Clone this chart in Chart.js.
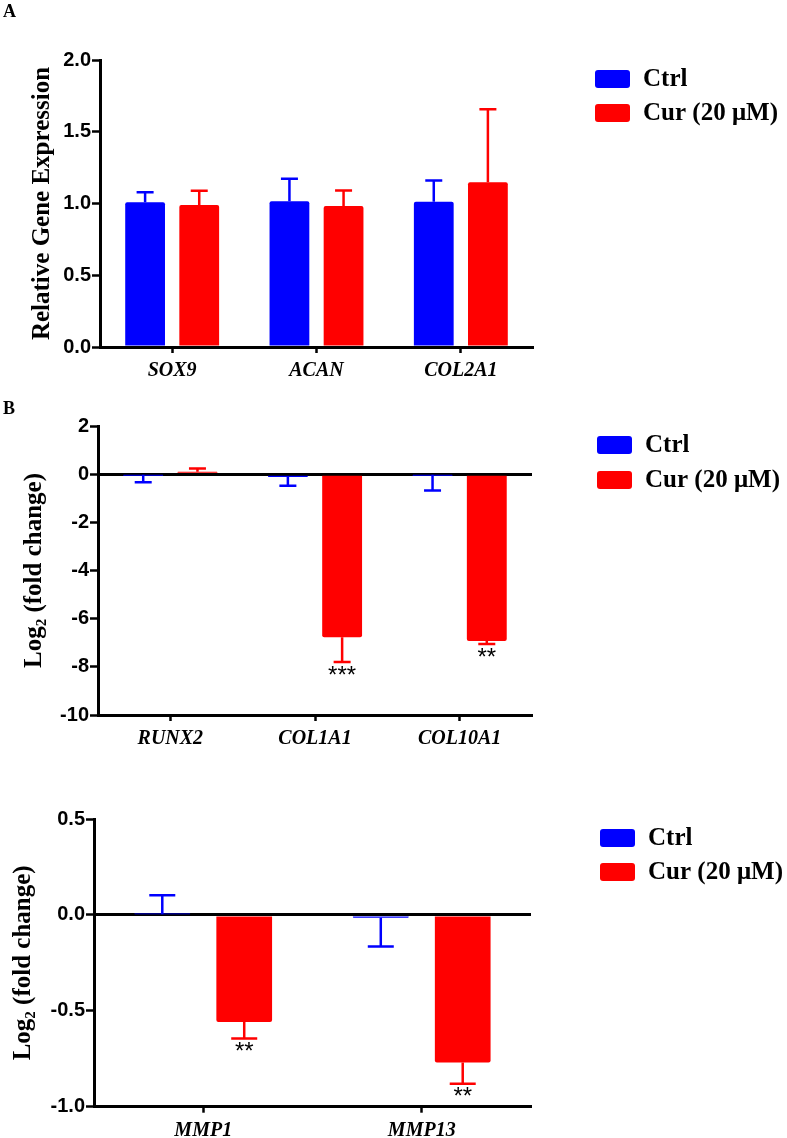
<!DOCTYPE html>
<html><head><meta charset="utf-8">
<script src="https://cdn.jsdelivr.net/npm/chart.js@4/dist/chart.umd.min.js"></script>
<style>
html,body{margin:0;padding:0;background:#fff;}
#wrap{position:relative;width:787px;height:1138px;overflow:hidden;background:#fff;}
canvas{position:absolute;left:0;}
</style></head><body>
<div id="wrap">
<canvas id="cA" width="787" height="385" style="top:0px"></canvas>
<canvas id="cB" width="787" height="380" style="top:385px"></canvas>
<canvas id="cC" width="787" height="373" style="top:765px"></canvas>
</div>
<script>
// ---------- data ----------
const seriesNames = ['Ctrl', 'Cur (20 \u03bcM)'];

// Panel A
const genesA = ['SOX9', 'ACAN', 'COL2A1'];
const ctrlA = [1.008, 1.015, 1.012];
const ctrlSemA = [0.07, 0.158, 0.148];
const curA = [0.99, 0.983, 1.148];
const curSemA = [0.099, 0.107, 0.508];
const sigA = ['', '', ''];
const yTicksA = [0, 0.5, 1.0, 1.5, 2.0];

// Panel B
const genesB = ['RUNX2', 'COL1A1', 'COL10A1'];
const ctrlB = [-0.02, -0.12, -0.02];
const ctrlSemB = [0.32, 0.36, 0.66];
const curB = [0.1, -6.77, -6.93];
const curSemB = [0.14, 1.03, 0.12];
const sigB = ['', '***', '**'];
const yTicksB = [-10, -8, -6, -4, -2, 0, 2];

// Panel C
const genesC = ['MMP1', 'MMP13'];
const ctrlC = [0.003, -0.015];
const ctrlSemC = [0.10, 0.15];
const curC = [-0.559, -0.77];
const curSemC = [0.085, 0.11];
const sigC = ['**', '**'];
const yTicksC = [-1.0, -0.5, 0.0, 0.5];

// ---------- styles ----------
const BLUE = '#0000ff', RED = '#ff0000';
const SERIF = '"Liberation Serif","Times New Roman",serif';
const SANS = '"Liberation Sans",Arial,sans-serif';

// error bars + significance marks, drawn through the chart's scales
const errorBars = {
  id: 'errorBars',
  afterDatasetsDraw(chart, args, opts) {
    const ctx = chart.ctx, ys = chart.scales.y;
    chart.data.datasets.forEach((ds, di) => {
      const meta = chart.getDatasetMeta(di);
      meta.data.forEach((bar, i) => {
        const v = ds.data[i], e = ds.sem[i];
        const end = v >= 0 ? v + e : v - e;
        const y0 = ys.getPixelForValue(v), y1 = ys.getPixelForValue(end);
        ctx.save();
        ctx.strokeStyle = ds.backgroundColor;
        ctx.lineWidth = opts.lineWidth;
        ctx.lineCap = 'butt';
        ctx.beginPath();
        ctx.moveTo(bar.x, y0); ctx.lineTo(bar.x, y1);
        ctx.moveTo(bar.x - opts.cap / 2, y1); ctx.lineTo(bar.x + opts.cap / 2, y1);
        ctx.stroke();
        if (ds.sig && ds.sig[i]) {
          ctx.fillStyle = '#000';
          ctx.font = opts.sigFont;
          ctx.textAlign = 'center';
          ctx.textBaseline = 'top';
          ctx.fillText(ds.sig[i], bar.x, y1 + opts.sigGap);
        }
        ctx.restore();
      });
    });
  }
};

// legend at the right side
const sideLegend = {
  id: 'sideLegend',
  afterDraw(chart, args, opts) {
    const ctx = chart.ctx;
    chart.data.datasets.forEach((ds, i) => {
      const top = opts.y + i * opts.spacing;
      ctx.save();
      ctx.fillStyle = ds.backgroundColor;
      ctx.beginPath();
      ctx.roundRect(opts.x, top, opts.boxW, opts.boxH, 3);
      ctx.fill();
      ctx.fillStyle = '#000';
      ctx.font = 'bold 25px ' + SERIF;
      ctx.textAlign = 'left';
      ctx.textBaseline = 'middle';
      ctx.fillText(ds.label, opts.x + opts.boxW + 13, top + opts.boxH / 2 + 1);
      ctx.restore();
    });
  }
};

function yScale(ticksArr, decimals, width, titleText, titlePad, zeroLine) {
  return {
    min: ticksArr[0], max: ticksArr[ticksArr.length - 1],
    afterBuildTicks: s => { s.ticks = ticksArr.map(v => ({ value: v })); },
    afterFit: s => { s.width = width; },
    ticks: {
      color: '#000', padding: 1,
      font: { family: SANS, size: 20, weight: 'bold' },
      callback: v => Number(v).toFixed(decimals)
    },
    grid: {
      drawOnChartArea: zeroLine, drawTicks: true, tickLength: 8, tickWidth: 2.5, tickColor: '#000',
      color: c => (zeroLine && c.tick && c.tick.value === 0) ? '#000' : 'rgba(0,0,0,0)',
      lineWidth: c => (c.tick && c.tick.value === 0) ? 3 : 1
    },
    border: { display: true, color: '#000', width: 3 },
    title: {
      display: true, text: titleText, color: '#000',
      font: { family: SERIF, size: 25, weight: 'bold' },
      padding: { top: titlePad, bottom: 0 }
    }
  };
}

function xScale(h) {
  return {
    type: 'category', offset: true,
    afterFit: s => { s.height = h; },
    grid: { offset: false, drawOnChartArea: false, drawTicks: true, tickLength: 6, tickWidth: 2.5, tickColor: '#000', color: '#000' },
    border: { display: true, color: '#000', width: 3 },
    ticks: { color: '#000', padding: 6, maxRotation: 0, autoSkip: false,
      font: { family: SERIF, size: 20, weight: 'bold', style: 'italic' } }
  };
}

function makeChart(id, cfg) {
  return new Chart(document.getElementById(id), {
    type: 'bar',
    data: {
      labels: cfg.labels,
      datasets: [
        { label: seriesNames[0], data: cfg.ctrl, sem: cfg.ctrlSem, sig: [], backgroundColor: BLUE,
          borderRadius: 2, barPercentage: cfg.barPct, categoryPercentage: 0.75 },
        { label: seriesNames[1], data: cfg.cur, sem: cfg.curSem, sig: cfg.sig, backgroundColor: RED,
          borderRadius: 2, barPercentage: cfg.barPct, categoryPercentage: 0.75 }
      ]
    },
    options: {
      responsive: false, animation: false, events: [], devicePixelRatio: 1,
      layout: { padding: cfg.pad },
      scales: { x: xScale(cfg.xh), y: cfg.y },
      plugins: {
        legend: { display: false },
        tooltip: { enabled: false },
        title: cfg.title ? {
          display: true, text: cfg.title, align: 'start', color: '#000',
          font: { family: SERIF, size: 18, weight: 'bold', lineHeight: 1.2 },
          padding: cfg.titlePad
        } : { display: false },
        errorBars: { lineWidth: 2.5, cap: cfg.cap, sigFont: '24px ' + SANS, sigGap: 2 },
        sideLegend: cfg.legend
      }
    },
    plugins: [errorBars, sideLegend]
  });
}

makeChart('cA', {
  labels: genesA, ctrl: ctrlA, ctrlSem: ctrlSemA, cur: curA, curSem: curSemA, sig: sigA,
  barPct: 0.735, xh: 34, cap: 17,
  pad: { top: 0, left: 3, right: 254, bottom: 4 },
  y: yScale(yTicksA, 1, 97, 'Relative Gene Expression', 25, false),
  title: 'A', titlePad: { top: 2, bottom: 36.4 },
  legend: { x: 595, y: 70, spacing: 34, boxW: 35, boxH: 18 }
});

makeChart('cB', {
  labels: genesB, ctrl: ctrlB, ctrlSem: ctrlSemB, cur: curB, curSem: curSemB, sig: sigB,
  barPct: 0.735, xh: 34, cap: 17,
  pad: { top: 13, left: 3, right: 255, bottom: 16 },
  y: yScale(yTicksB, 0, 95, 'Log\u2082 (fold change)', 16.5, true),
  title: 'B', titlePad: { top: 1, bottom: 5.4 },
  legend: { x: 597, y: 51, spacing: 35, boxW: 35, boxH: 18 }
});

makeChart('cC', {
  labels: genesC, ctrl: ctrlC, ctrlSem: ctrlSemC, cur: curC, curSem: curSemC, sig: sigC,
  barPct: 0.68, xh: 30, cap: 26,
  pad: { top: 54, left: 0, right: 256, bottom: 1.3 },
  y: yScale(yTicksC, 1, 94, 'Log\u2082 (fold change)', 9, true),
  title: null,
  legend: { x: 600, y: 64, spacing: 34, boxW: 35, boxH: 18 }
});
</script>
</body></html>
